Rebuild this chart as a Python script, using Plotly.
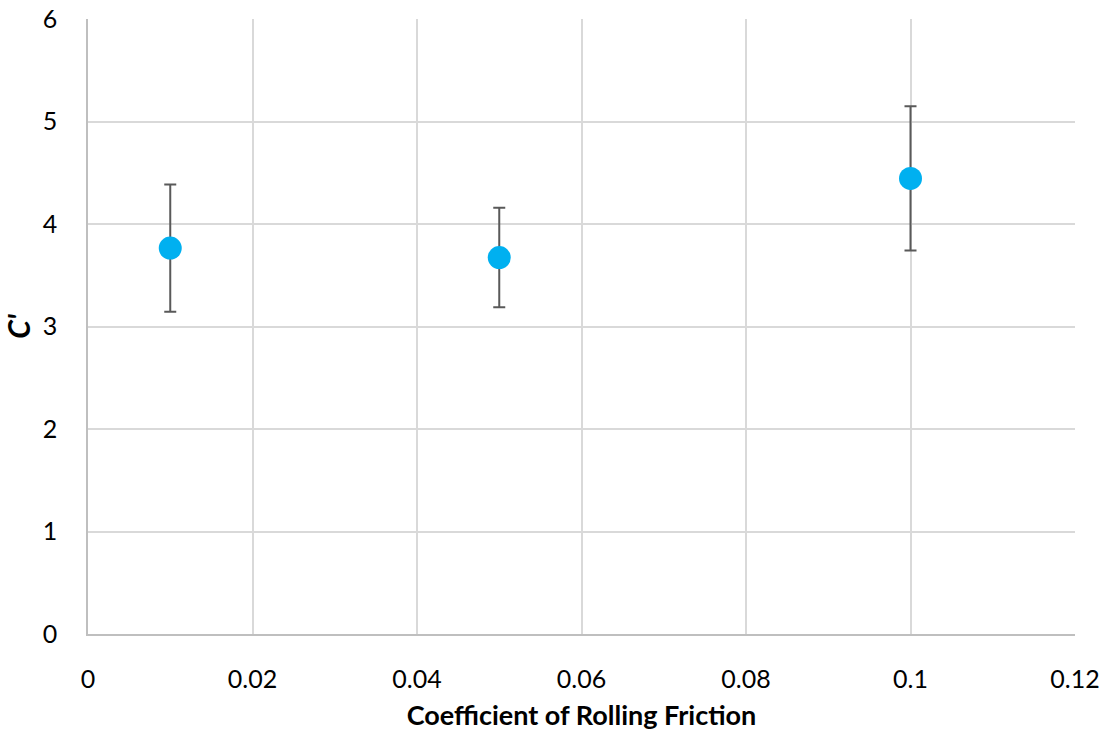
import plotly.graph_objects as go

friction = [0.01, 0.05, 0.1]
c_prime = [3.765, 3.673, 4.445]
err = [0.62, 0.485, 0.703]

x_ticks = [0, 0.02, 0.04, 0.06, 0.08, 0.1, 0.12]
x_tick_text = ["0", "0.02", "0.04", "0.06", "0.08", "0.1", "0.12"]
y_ticks = [0, 1, 2, 3, 4, 5, 6]

FONT = "Lato, Open Sans, sans-serif"

fig = go.Figure()
fig.add_trace(go.Scatter(
    x=friction, y=c_prime, mode="markers",
    marker=dict(color="#00B0F0", size=23, line=dict(width=0)),
    error_y=dict(type="data", array=err, visible=True, color="#595959", thickness=2, width=6),
    showlegend=False,
))

fig.update_layout(
    width=1108, height=733,
    margin=dict(l=88, r=33, t=19, b=99),
    paper_bgcolor="white", plot_bgcolor="white",
    font=dict(family=FONT, size=25, color="black"),
    xaxis=dict(
        range=[0, 0.12], tickvals=x_ticks, ticktext=x_tick_text,
        showgrid=True, gridcolor="#d9d9d9", gridwidth=1.5,
        showline=True, linecolor="#bfbfbf", linewidth=1.5,
        zeroline=False, ticks="", ticklen=0, automargin=False,
        ticklabelstandoff=22,
        title=dict(text="<b>Coefficient of Rolling Friction</b>", font=dict(size=27, family=FONT), standoff=14),
        tickfont=dict(size=25),
    ),
    yaxis=dict(
        range=[0, 6], tickvals=y_ticks,
        showgrid=True, gridcolor="#d9d9d9", gridwidth=1.5,
        showline=True, linecolor="#bfbfbf", linewidth=1.5,
        zeroline=False, ticks="", ticklen=0, automargin=False,
        ticklabelstandoff=24,
        title=dict(text="<b><i>C'</i></b>", font=dict(size=30, family=FONT), standoff=8),
        tickfont=dict(size=25),
    ),
)

fig.write_html("out.html")
